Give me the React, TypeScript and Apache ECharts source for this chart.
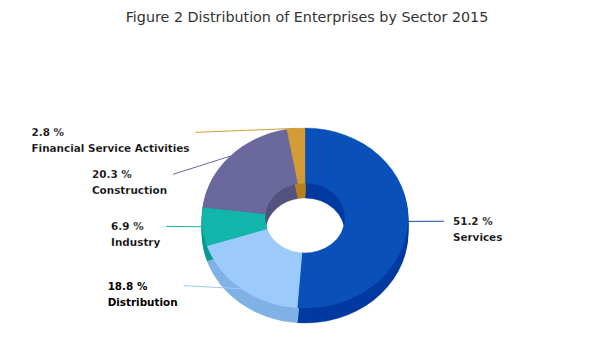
import React, { useEffect, useRef } from "react";
import * as echarts from "echarts";

const categories = ["Services", "Distribution", "Industry", "Construction", "Financial Service Activities"];
const values = [51.2, 18.8, 6.9, 20.3, 2.8];
const titleText = "Figure 2 Distribution of Enterprises by Sector 2015";

// styles
const topColors = ["#0a50b9", "#9ccbfb", "#12b5aa", "#6a689d", "#d39c36"];
const sideColors = ["#003aa0", "#80b2e6", "#0a9b91", "#55537f", "#b5831f"];
const labelOutlined = [true, false, true, true, true];

// layout
const CX = 305;
const CY = 218;
const R = 103;
const R0 = 40;
const KY = 90 / 103;
const DEPTH = 15;
const LY = 86;
const LR = 139;
const GAP = 42;
const LABEL_FONT = 'bold 10.4px "DejaVu Sans"';

export default function App() {
  const ref = useRef<HTMLDivElement>(null);
  useEffect(() => {
    if (!ref.current) return;
    const chart = echarts.init(ref.current, null, { renderer: "svg" });

    const total = values.reduce((a, b) => a + b, 0);
    const starts: number[] = [];
    let acc = 0;
    values.forEach((v) => {
      starts.push(acc);
      acc += v;
    });

    const canvas = document.createElement("canvas");
    const ctx = canvas.getContext("2d")!;
    ctx.font = LABEL_FONT;

    // label layout
    const labels = values.map((v, i) => {
      const theta = ((starts[i] + v / 2) / total) * Math.PI * 2;
      const side = Math.sin(theta) >= 0 ? 1 : -1;
      return { i, theta, side, y: CY - LY * Math.cos(theta) };
    });
    [1, -1].forEach((s) => {
      const group = labels.filter((l) => l.side === s).sort((a, b) => a.y - b.y);
      for (let j = 1; j < group.length; j++) {
        if (group[j].y < group[j - 1].y + GAP) group[j].y = group[j - 1].y + GAP;
      }
    });

    const renderItem = (params: any, api: any) => {
      const i = params.dataIndex;
      const v = api.value(0);
      const a0 = -Math.PI / 2 + (starts[i] / total) * Math.PI * 2;
      const a1 = -Math.PI / 2 + ((starts[i] + v) / total) * Math.PI * 2;
      const children: any[] = [];
      for (let d = DEPTH; d >= 1; d--) {
        children.push({
          type: "sector",
          x: CX,
          y: CY + d,
          scaleY: KY,
          z2: 1,
          shape: { cx: 0, cy: 0, r: R, r0: R0, startAngle: a0, endAngle: a1, clockwise: true },
          style: { fill: sideColors[i], stroke: sideColors[i], lineWidth: 0.4 },
        });
      }
      children.push({
        type: "sector",
        x: CX,
        y: CY,
        scaleY: KY,
        z2: 10,
        shape: { cx: 0, cy: 0, r: R, r0: R0, startAngle: a0, endAngle: a1, clockwise: true },
        style: { fill: topColors[i], stroke: topColors[i], lineWidth: 0.4 },
      });

      const lab = labels[i];
      const dy = lab.y - CY;
      const xEnd = CX + lab.side * Math.sqrt(Math.max(0, LR * LR - dy * dy));
      const px = CX + R * Math.sin(lab.theta);
      const py = CY - R * KY * Math.cos(lab.theta);
      children.push({
        type: "line",
        z2: 20,
        shape: { x1: xEnd, y1: lab.y, x2: px, y2: py },
        style: { stroke: topColors[i], lineWidth: 1 },
      });
      const line1 = values[i].toFixed(1) + " %";
      const line2 = categories[i];
      const w = Math.max(ctx.measureText(line1).width, ctx.measureText(line2).width);
      const tx = lab.side > 0 ? xEnd + 9 : xEnd - 6 - w;
      const text = line1 + "\n" + line2;
      children.push({
        type: "text",
        x: tx,
        y: lab.y - 8,
        z2: 30,
        style: {
          text,
          font: LABEL_FONT,
          fill: "#000000",
          textAlign: "left",
          textVerticalAlign: "top",
          lineHeight: 16,
        },
      });
      if (labelOutlined[i]) {
        children.push({
          type: "text",
          x: tx,
          y: lab.y - 8,
          z2: 31,
          silent: true,
          style: {
            text,
            font: LABEL_FONT,
            fill: "none",
            stroke: "rgba(255,255,255,0.55)",
            lineWidth: 0.35,
            textAlign: "left",
            textVerticalAlign: "top",
            lineHeight: 16,
          },
        });
      }
      return { type: "group", children };
    };

    chart.setOption({
      animation: false,
      title: {
        text: titleText,
        left: "center",
        top: 5,
        textStyle: {
          fontFamily: "DejaVu Sans",
          fontSize: 14.3,
          fontWeight: "normal",
          color: "#333333",
        },
      },
      series: [
        {
          type: "custom",
          coordinateSystem: "none",
          renderItem,
          data: values.map((v, i) => ({ name: categories[i], value: [v] })),
        },
      ],
    });
    return () => chart.dispose();
  }, []);
  return (
    <div
      ref={ref}
      style={{ position: "fixed", left: 0, top: 0, width: 614, height: 346, background: "#ffffff" }}
    />
  );
}
